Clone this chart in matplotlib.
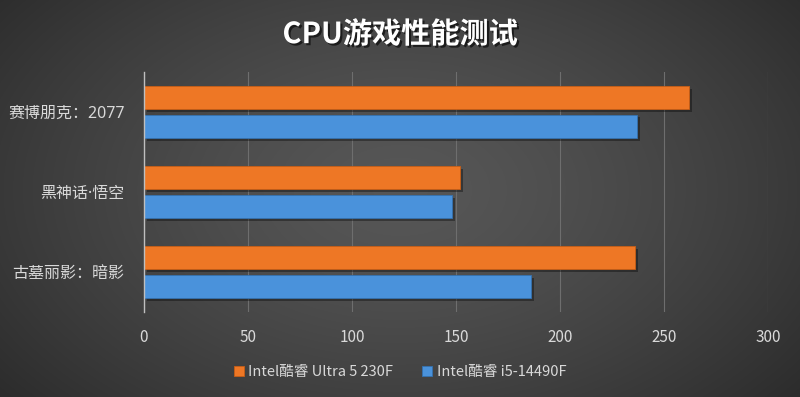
import matplotlib
matplotlib.use("Agg")
import matplotlib.pyplot as plt
import matplotlib.patheffects as pe
import numpy as np

plt.rcParams['font.family'] = ['Noto Sans CJK SC', 'DejaVu Sans']

categories = ["赛博朋克：2077", "黑神话·悟空", "古墓丽影：暗影"]
series_names = ["Intel酷睿 Ultra 5 230F", "Intel酷睿 i5-14490F"]
ultra5 = [262, 152, 236]
i5 = [237, 148, 186]
xticks = [0, 50, 100, 150, 200, 250, 300]
title = "CPU游戏性能测试"

fig = plt.figure(figsize=(8, 3.97), dpi=100)

# radial gradient background
bg = fig.add_axes([0, 0, 1, 1], zorder=-10)
yy, xx = np.mgrid[0:397, 0:800]
r = np.sqrt(((xx - 400) / 520.0) ** 2 + ((yy - 190) / 330.0) ** 2)
val = np.clip(0.34 - 0.17 * r ** 1.4, 0.12, 0.4)
img = np.dstack([val, val, val])
bg.imshow(img, aspect='auto', extent=[0, 1, 0, 1])
bg.axis('off')

ax = fig.add_axes([0.18, 0.214, 0.78, 0.605])
ax.set_facecolor('none')

n = len(categories)
pos = np.arange(n)
h = 0.29
gap = 0.035
orange = '#EE7725'
blue = '#4A92DB'
b1 = ax.barh(pos - (h / 2 + gap), ultra5, height=h, color=orange,
             edgecolor='#C85E16', linewidth=0.6, zorder=3, label=series_names[0])
b2 = ax.barh(pos + (h / 2 + gap), i5, height=h, color=blue,
             edgecolor='#3572B0', linewidth=0.6, zorder=3, label=series_names[1])
for bars in (b1, b2):
    for b in bars:
        b.set_path_effects([pe.SimplePatchShadow(offset=(2, -2), shadow_rgbFace='black', alpha=0.35), pe.Normal()])

ax.set_ylim(n - 0.5, -0.5)
ax.set_xlim(0, 300)
ax.set_xticks(xticks)
ax.set_yticks(pos)
ax.set_yticklabels(categories, family=['Noto Sans', 'Noto Sans CJK SC'], fontsize=11.5)
ax.tick_params(axis='both', length=0, colors='#D9D9D9')
ax.tick_params(axis='x', pad=12, labelsize=11)
ax.tick_params(axis='y', pad=14)
ax.grid(axis='x', color='#6E6E6E', linewidth=0.8, zorder=0)
for s in ['top', 'right', 'bottom']:
    ax.spines[s].set_visible(False)
ax.spines['left'].set_color('#BFBFBF')
ax.spines['left'].set_linewidth(1.0)
ax.spines['left'].set_zorder(4)

fig.text(0.5, 0.914, title, ha='center', va='center', color='white',
         fontsize=21, fontweight='bold',
         path_effects=[pe.withSimplePatchShadow(offset=(1.5, -1.5), shadow_rgbFace='black', alpha=0.6)])

leg = fig.legend(handles=[b1, b2], labels=series_names, loc='center',
                 bbox_to_anchor=(0.5, 0.063), ncol=2, frameon=False,
                 fontsize=10.5, handlelength=0.7, handleheight=0.7,
                 handletextpad=0.3, columnspacing=2.0)
for t in leg.get_texts():
    t.set_color('#D9D9D9')
for hd in leg.legend_handles:
    hd.set_path_effects([])

fig.savefig('out.png', dpi=100)
